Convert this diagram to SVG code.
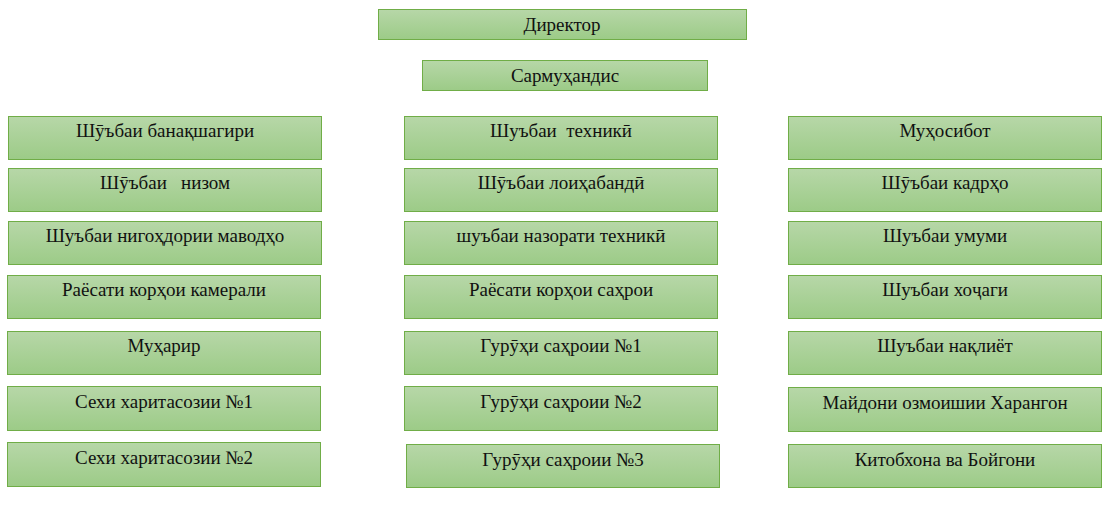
<svg xmlns="http://www.w3.org/2000/svg" width="1118" height="506" viewBox="0 0 1118 506">
<defs>
<linearGradient id="g" x1="0" y1="0" x2="0" y2="1">
<stop offset="0" stop-color="#b7d7a8"/>
<stop offset="1" stop-color="#9ccb87"/>
</linearGradient>
<style>
.b{fill:url(#g);stroke:#70ad47;stroke-width:1}
.t{font-family:"Liberation Serif","Times New Roman",serif;font-size:19px;letter-spacing:0;fill:#111;text-anchor:middle;white-space:pre}
</style>
</defs>
<rect width="1118" height="506" fill="#fff"/>
<g id="connectors"></g>
<g id="n-director"><rect class="b" x="378.5" y="9.5" width="368" height="30"/><text class="t" x="562" y="31">Директор</text></g>
<g id="n-sarmuhandis"><rect class="b" x="422.5" y="60.5" width="285" height="30"/><text class="t" x="565" y="82">Сармуҳандис</text></g>

<g id="n-l1"><rect class="b" x="8.5" y="116.5" width="313" height="43"/><text class="t" x="165" y="137">Шӯъбаи банақшагири</text></g>
<g id="n-l2"><rect class="b" x="8.5" y="168.5" width="313" height="43"/><text class="t" x="165" y="189">Шӯъбаи   низом</text></g>
<g id="n-l3"><rect class="b" x="8.5" y="221.5" width="313" height="43"/><text class="t" x="165" y="242">Шуъбаи нигоҳдории маводҳо</text></g>
<g id="n-l4"><rect class="b" x="7.5" y="275.5" width="313" height="43"/><text class="t" x="164" y="296">Раёсати корҳои камерали</text></g>
<g id="n-l5"><rect class="b" x="7.5" y="331.5" width="313" height="43"/><text class="t" x="164" y="352">Муҳарир</text></g>
<g id="n-l6"><rect class="b" x="7.5" y="386.5" width="313" height="44"/><text class="t" x="164" y="408">Сехи харитасозии №1</text></g>
<g id="n-l7"><rect class="b" x="7.5" y="442.5" width="313" height="44"/><text class="t" x="164" y="464">Сехи харитасозии №2</text></g>

<g id="n-m1"><rect class="b" x="404.5" y="116.5" width="313" height="43"/><text class="t" x="561" y="137">Шуъбаи  техникӣ</text></g>
<g id="n-m2"><rect class="b" x="404.5" y="168.5" width="313" height="43"/><text class="t" x="561" y="189">Шӯъбаи лоиҳабандӣ</text></g>
<g id="n-m3"><rect class="b" x="404.5" y="221.5" width="313" height="43"/><text class="t" x="561" y="242">шуъбаи назорати техникӣ</text></g>
<g id="n-m4"><rect class="b" x="404.5" y="275.5" width="313" height="43"/><text class="t" x="561" y="296">Раёсати корҳои саҳрои</text></g>
<g id="n-m5"><rect class="b" x="404.5" y="331.5" width="313" height="43"/><text class="t" x="561" y="352">Гурӯҳи саҳроии №1</text></g>
<g id="n-m6"><rect class="b" x="404.5" y="386.5" width="313" height="44"/><text class="t" x="561" y="408">Гурӯҳи саҳроии №2</text></g>
<g id="n-m7"><rect class="b" x="406.5" y="444.5" width="313" height="43"/><text class="t" x="563" y="466">Гурӯҳи саҳроии №3</text></g>

<g id="n-r1"><rect class="b" x="788.5" y="116.5" width="313" height="43"/><text class="t" x="945" y="137">Муҳосибот</text></g>
<g id="n-r2"><rect class="b" x="788.5" y="168.5" width="313" height="43"/><text class="t" x="945" y="189">Шӯъбаи кадрҳо</text></g>
<g id="n-r3"><rect class="b" x="788.5" y="221.5" width="313" height="43"/><text class="t" x="945" y="242">Шуъбаи умуми</text></g>
<g id="n-r4"><rect class="b" x="788.5" y="275.5" width="313" height="43"/><text class="t" x="945" y="296">Шуъбаи хоҷаги</text></g>
<g id="n-r5"><rect class="b" x="788.5" y="331.5" width="313" height="43"/><text class="t" x="945" y="352">Шуъбаи нақлиёт</text></g>
<g id="n-r6"><rect class="b" x="788.5" y="387.5" width="313" height="44"/><text class="t" x="945" y="409">Майдони озмоишии Харангон</text></g>
<g id="n-r7"><rect class="b" x="788.5" y="444.5" width="313" height="43"/><text class="t" x="945" y="466">Китобхона ва Бойгони</text></g>
</svg>
